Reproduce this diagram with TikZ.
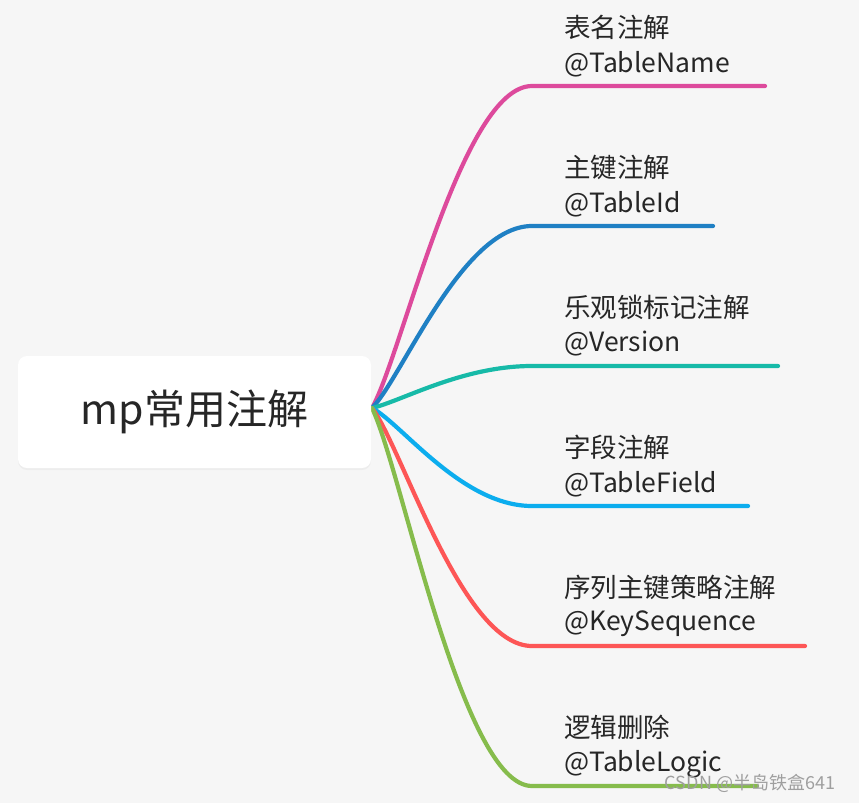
\documentclass[tikz,border=0pt]{standalone}
\usepackage{fontspec}
\setmainfont{Noto Sans CJK SC}
\usetikzlibrary{shadows}
\definecolor{bg}{HTML}{F6F6F6}
\definecolor{txt}{HTML}{262626}
\definecolor{cpink}{HTML}{DD4A9C}
\definecolor{cblue}{HTML}{1F80C4}
\definecolor{cteal}{HTML}{17BAA8}
\definecolor{csky}{HTML}{0CADEE}
\definecolor{cred}{HTML}{FD5656}
\definecolor{cgreen}{HTML}{86BC4C}
\tikzset{
  rootbox/.style={draw=none, fill=white, rounded corners=9pt, minimum width=353pt, minimum height=112pt,
    inner sep=0pt, text=txt, font=\fontsize{41}{48}\selectfont,
    drop shadow={opacity=0.07, shadow xshift=0pt, shadow yshift=-2pt}},
  lab/.style={anchor=west, inner sep=0pt, text=txt, font=\fontsize{26.5}{31}\selectfont},
  branch/.style={line width=4.2pt, line cap=round},
  wmark/.style={inner sep=0pt, text=gray!75, font=\fontsize{18}{21}\selectfont}
}
\begin{document}
\begin{tikzpicture}[x=1pt,y=-1pt]
\fill[bg] (0,0) rectangle (859,803);
\useasboundingbox (0,0) rectangle (859,803);

\coordinate (o) at (372,408);
\coordinate (e1) at (532,86);  \coordinate (t1) at (765,86);
\coordinate (e2) at (532,226); \coordinate (t2) at (713,226);
\coordinate (e3) at (532,366); \coordinate (t3) at (778,366);
\coordinate (e4) at (532,506); \coordinate (t4) at (748,506);
\coordinate (e5) at (532,646); \coordinate (t5) at (805,646);
\coordinate (e6) at (532,786); \coordinate (t6) at (757,786);

\draw[branch, cpink]  (o) .. controls (402,355) and (462,86)  .. (e1) -- (t1);
\draw[branch, cblue]  (o) .. controls (402,378) and (462,226) .. (e2) -- (t2);
\draw[branch, cteal]  (o) .. controls (402,401) and (462,366) .. (e3) -- (t3);
\draw[branch, csky]   (o) .. controls (402,424) and (462,506) .. (e4) -- (t4);
\draw[branch, cred]   (o) .. controls (402,447) and (462,646) .. (e5) -- (t5);
\draw[branch, cgreen] (o) .. controls (402,470) and (462,786) .. (e6) -- (t6);

\node[rootbox] (root) at (194.5,412) {mp常用注解};

\node[lab] (l1a) at (564,27)  {表名注解};
\node[lab] (l1b) at (564,64)  {@TableName};
\node[lab] (l2a) at (564,167) {主键注解};
\node[lab] (l2b) at (564,204) {@TableId};
\node[lab] (l3a) at (564,307) {乐观锁标记注解};
\node[lab] (l3b) at (564,344) {@Version};
\node[lab] (l4a) at (564,447) {字段注解};
\node[lab] (l4b) at (564,484) {@TableField};
\node[lab] (l5a) at (564,587) {序列主键策略注解};
\node[lab] (l5b) at (564,624) {@KeySequence};
\node[lab] (l6a) at (564,727) {逻辑删除};
\node[lab] (l6b) at (564,764) {@TableLogic};

\node[wmark] (wm) at (750,783) {CSDN @半岛铁盒641};
\end{tikzpicture}
\end{document}
